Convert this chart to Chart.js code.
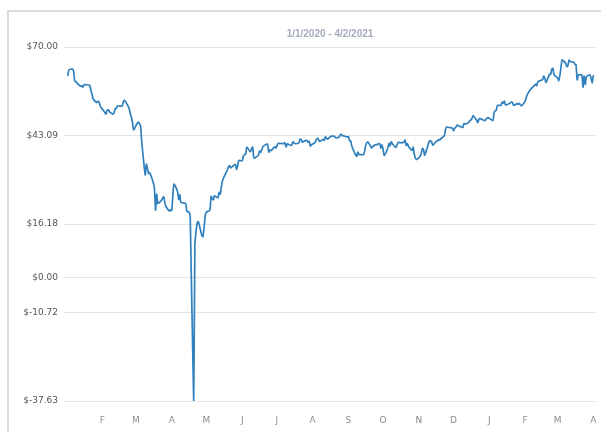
<!DOCTYPE html>
<html>
<head>
<meta charset="utf-8">
<script src="https://cdn.jsdelivr.net/npm/chart.js@4.4.1/dist/chart.umd.min.js"></script>
<style>
  html, body { margin: 0; padding: 0; background: #fff; }
  body { width: 601px; height: 432px; position: relative; overflow: hidden; }
  .frame { position: absolute; left: 7px; top: 10px; width: 700px; height: 500px;
           border-left: 2px solid #dcdcdc; border-top: 2px solid #dcdcdc; }
  #priceChart { position: absolute; left: 0; top: 0; }
</style>
</head>
<body>
<div class="frame"></div>
<canvas id="priceChart" width="601" height="432"></canvas>
<script>
const chartTitle = '1/1/2020 - 4/2/2021';

const dates = [
  '2020-01-02','2020-01-03','2020-01-06','2020-01-07','2020-01-08','2020-01-09','2020-01-10','2020-01-13','2020-01-14','2020-01-15','2020-01-16','2020-01-17','2020-01-21','2020-01-22','2020-01-23','2020-01-24','2020-01-27','2020-01-28','2020-01-29','2020-01-30','2020-01-31',
  '2020-02-03','2020-02-04','2020-02-05','2020-02-06','2020-02-07','2020-02-10','2020-02-11','2020-02-12','2020-02-13','2020-02-14','2020-02-18','2020-02-19','2020-02-20','2020-02-21','2020-02-24','2020-02-25','2020-02-26','2020-02-27','2020-02-28',
  '2020-03-02','2020-03-03','2020-03-04','2020-03-05','2020-03-06','2020-03-09','2020-03-10','2020-03-11','2020-03-12','2020-03-13','2020-03-16','2020-03-17','2020-03-18','2020-03-19','2020-03-20','2020-03-23','2020-03-24','2020-03-25','2020-03-26','2020-03-27','2020-03-30','2020-03-31',
  '2020-04-01','2020-04-02','2020-04-03','2020-04-06','2020-04-07','2020-04-08','2020-04-09','2020-04-13','2020-04-14','2020-04-15','2020-04-16','2020-04-17','2020-04-20','2020-04-21','2020-04-22','2020-04-23','2020-04-24','2020-04-27','2020-04-28','2020-04-29','2020-04-30',
  '2020-05-01','2020-05-04','2020-05-05','2020-05-06','2020-05-07','2020-05-08','2020-05-11','2020-05-12','2020-05-13','2020-05-14','2020-05-15','2020-05-18','2020-05-19','2020-05-20','2020-05-21','2020-05-22','2020-05-26','2020-05-27','2020-05-28','2020-05-29',
  '2020-06-01','2020-06-02','2020-06-03','2020-06-04','2020-06-05','2020-06-08','2020-06-09','2020-06-10','2020-06-11','2020-06-12','2020-06-15','2020-06-16','2020-06-17','2020-06-18','2020-06-19','2020-06-22','2020-06-23','2020-06-24','2020-06-25','2020-06-26','2020-06-29','2020-06-30',
  '2020-07-01','2020-07-02','2020-07-06','2020-07-07','2020-07-08','2020-07-09','2020-07-10','2020-07-13','2020-07-14','2020-07-15','2020-07-16','2020-07-17','2020-07-20','2020-07-21','2020-07-22','2020-07-23','2020-07-24','2020-07-27','2020-07-28','2020-07-29','2020-07-30','2020-07-31',
  '2020-08-03','2020-08-04','2020-08-05','2020-08-06','2020-08-07','2020-08-10','2020-08-11','2020-08-12','2020-08-13','2020-08-14','2020-08-17','2020-08-18','2020-08-19','2020-08-20','2020-08-21','2020-08-24','2020-08-25','2020-08-26','2020-08-27','2020-08-28','2020-08-31',
  '2020-09-01','2020-09-02','2020-09-03','2020-09-04','2020-09-08','2020-09-09','2020-09-10','2020-09-11','2020-09-14','2020-09-15','2020-09-16','2020-09-17','2020-09-18','2020-09-21','2020-09-22','2020-09-23','2020-09-24','2020-09-25','2020-09-28','2020-09-29','2020-09-30',
  '2020-10-01','2020-10-02','2020-10-05','2020-10-06','2020-10-07','2020-10-08','2020-10-09','2020-10-12','2020-10-13','2020-10-14','2020-10-15','2020-10-16','2020-10-19','2020-10-20','2020-10-21','2020-10-22','2020-10-23','2020-10-26','2020-10-27','2020-10-28','2020-10-29','2020-10-30',
  '2020-11-02','2020-11-03','2020-11-04','2020-11-05','2020-11-06','2020-11-09','2020-11-10','2020-11-11','2020-11-12','2020-11-13','2020-11-16','2020-11-17','2020-11-18','2020-11-19','2020-11-20','2020-11-23','2020-11-24','2020-11-25','2020-11-27','2020-11-30',
  '2020-12-01','2020-12-02','2020-12-03','2020-12-04','2020-12-07','2020-12-08','2020-12-09','2020-12-10','2020-12-11','2020-12-14','2020-12-15','2020-12-16','2020-12-17','2020-12-18','2020-12-21','2020-12-22','2020-12-23','2020-12-24','2020-12-28','2020-12-29','2020-12-30','2020-12-31',
  '2021-01-04','2021-01-05','2021-01-06','2021-01-07','2021-01-08','2021-01-11','2021-01-12','2021-01-13','2021-01-14','2021-01-15','2021-01-19','2021-01-20','2021-01-21','2021-01-22','2021-01-25','2021-01-26','2021-01-27','2021-01-28','2021-01-29',
  '2021-02-01','2021-02-02','2021-02-03','2021-02-04','2021-02-05','2021-02-08','2021-02-09','2021-02-10','2021-02-11','2021-02-12','2021-02-16','2021-02-17','2021-02-18','2021-02-19','2021-02-22','2021-02-23','2021-02-24','2021-02-25','2021-02-26',
  '2021-03-01','2021-03-02','2021-03-03','2021-03-04','2021-03-05','2021-03-08','2021-03-09','2021-03-10','2021-03-11','2021-03-12','2021-03-15','2021-03-16','2021-03-17','2021-03-18','2021-03-19','2021-03-22','2021-03-23','2021-03-24','2021-03-25','2021-03-26','2021-03-29','2021-03-30','2021-03-31',
  '2021-04-01'
];

const prices = [
  61.18, 63.05, 63.27, 62.70, 59.61, 59.56, 59.04, 58.08, 58.23, 57.81, 58.52, 58.54, 58.34, 56.74, 55.59, 54.19, 53.14, 53.48, 53.33, 52.14, 51.56,
  50.11, 49.61, 50.75, 50.95, 50.32, 49.57, 49.94, 51.17, 51.42, 52.05, 52.05, 53.29, 53.78, 53.38, 51.43, 49.90, 48.73, 47.09, 44.76,
  46.75, 47.18, 46.78, 45.90, 41.28, 31.13, 34.36, 32.98, 31.50, 31.73, 28.70, 26.95, 20.37, 25.22, 22.43, 23.36, 24.01, 24.49, 22.60, 21.51, 20.09, 20.48,
  20.31, 25.32, 28.34, 26.08, 23.63, 25.09, 22.76, 22.41, 20.11, 19.87, 19.87, 18.27, -37.63, 10.01, 13.78, 16.50, 16.94, 12.78, 12.34, 15.06, 18.84,
  19.78, 20.39, 24.56, 23.99, 23.55, 24.74, 24.14, 25.78, 25.29, 27.56, 29.43, 31.82, 32.50, 33.49, 33.92, 33.25, 34.35, 32.81, 33.71, 35.49,
  35.44, 36.81, 37.29, 37.41, 39.55, 38.19, 38.94, 39.60, 36.34, 36.26, 37.12, 38.38, 37.96, 38.84, 39.75, 40.46, 40.37, 38.01, 38.72, 38.49, 39.70, 39.27,
  39.82, 40.65, 40.63, 40.62, 40.90, 39.62, 40.55, 40.10, 40.29, 41.20, 40.75, 40.59, 40.81, 41.96, 41.90, 41.07, 41.29, 41.60, 41.04, 41.27, 39.92, 40.27,
  41.01, 41.70, 42.19, 41.95, 41.22, 41.94, 41.61, 42.67, 42.24, 42.01, 42.89, 42.89, 42.93, 42.82, 42.34, 42.62, 43.35, 43.39, 43.04, 42.97, 42.61,
  42.76, 41.51, 41.37, 39.77, 36.76, 38.05, 37.30, 37.33, 37.26, 38.28, 40.16, 40.97, 41.11, 39.31, 39.80, 39.93, 40.31, 40.25, 40.60, 39.29, 40.22,
  38.72, 37.05, 39.22, 40.67, 39.95, 41.19, 40.60, 39.43, 40.20, 41.04, 40.96, 40.88, 41.06, 41.70, 40.03, 40.64, 39.85, 38.56, 39.57, 37.39, 36.17, 35.79,
  36.81, 37.66, 39.15, 38.79, 37.14, 40.29, 41.36, 41.45, 41.12, 40.13, 41.34, 41.43, 41.82, 41.74, 42.15, 43.06, 44.91, 45.71, 45.53, 45.34,
  44.55, 45.28, 45.64, 46.26, 45.76, 45.60, 45.52, 46.78, 46.57, 46.99, 47.62, 47.82, 48.36, 49.10, 47.74, 47.02, 48.12, 48.23, 47.62, 48.00, 48.40, 48.52,
  47.62, 49.93, 50.63, 50.83, 52.24, 52.25, 53.21, 52.91, 53.57, 52.36, 52.98, 53.24, 53.13, 52.27, 52.77, 52.61, 52.85, 52.34, 52.20,
  53.55, 54.76, 55.69, 56.23, 56.85, 57.97, 58.36, 58.68, 58.24, 59.47, 60.05, 61.14, 60.52, 59.24, 61.70, 61.67, 63.22, 63.53, 61.50,
  60.64, 59.75, 61.28, 63.83, 66.09, 65.05, 64.01, 64.44, 66.02, 65.61, 65.39, 64.80, 64.60, 60.00, 61.42, 61.55, 57.76, 61.18, 58.56, 60.97, 61.56, 60.55, 59.16,
  61.45
];

// x axis month marks
const monthStarts = ['2020-02-01','2020-03-01','2020-04-01','2020-05-01','2020-06-01','2020-07-01','2020-08-01','2020-09-01','2020-10-01','2020-11-01','2020-12-01','2021-01-01','2021-02-01','2021-03-01','2021-04-01'];
const monthLabels = ['F','M','A','M','J','J','A','S','O','N','D','J','F','M','A'];

// y axis: min, max and the stops in between
const yTicks = [-37.63, -10.72, 0, 16.18, 43.09, 70];

const DAY0 = Date.parse('2020-01-01');
function dayIndex(d) { return (Date.parse(d) - DAY0) / 864e5; }

Chart.defaults.font.family = "'DejaVu Sans', Verdana, sans-serif";

const ctx = document.getElementById('priceChart').getContext('2d');
new Chart(ctx, {
    type: 'line',
    data: {
        datasets: [{
            data: dates.map((d, i) => ({ x: dayIndex(d), y: prices[i] })),
            borderColor: '#2f80bd', borderWidth: 1.7, pointRadius: 0, tension: 0.2, fill: false
        }]
    },
    options: {
        responsive: false, animation: false,
        layout: { padding: { top: 28, right: 5, bottom: 0, left: 0 } },
        plugins: {
            legend: { display: false },
            tooltip: { enabled: false },
            title: {
                display: true, text: chartTitle, fullSize: false, color: '#a3acbb',
                font: { family: "'Liberation Sans', Arial, sans-serif", size: 10, weight: 'bold' },
                padding: { top: 0, bottom: 7 }
            }
        },
        scales: {
            x: {
                type: 'linear', min: -2.3, max: 458.3,
                grid: { display: false, drawTicks: false }, border: { display: false },
                afterBuildTicks: s => { s.ticks = monthStarts.map(d => ({ value: dayIndex(d) })); },
                afterFit: s => { s.height = 31; s.paddingLeft = 0; s.paddingRight = 0; },
                ticks: { autoSkip: false, maxRotation: 0, padding: 14, color: '#8c8c8c', font: { size: 9 },
                         callback: (v, i) => monthLabels[i] }
            },
            y: {
                min: -37.63, max: 70,
                afterBuildTicks: s => { s.ticks = yTicks.map(v => ({ value: v })); },
                afterFit: s => { s.width = 64; s.paddingTop = 0; s.paddingBottom = 0; },
                grid: { color: '#e4e4e4', drawTicks: false }, border: { display: false },
                ticks: { padding: 6, color: '#555', font: { size: 9 },
                         callback: v => '$' + v.toFixed(2) }
            }
        }
    }
});
</script>
</body>
</html>
